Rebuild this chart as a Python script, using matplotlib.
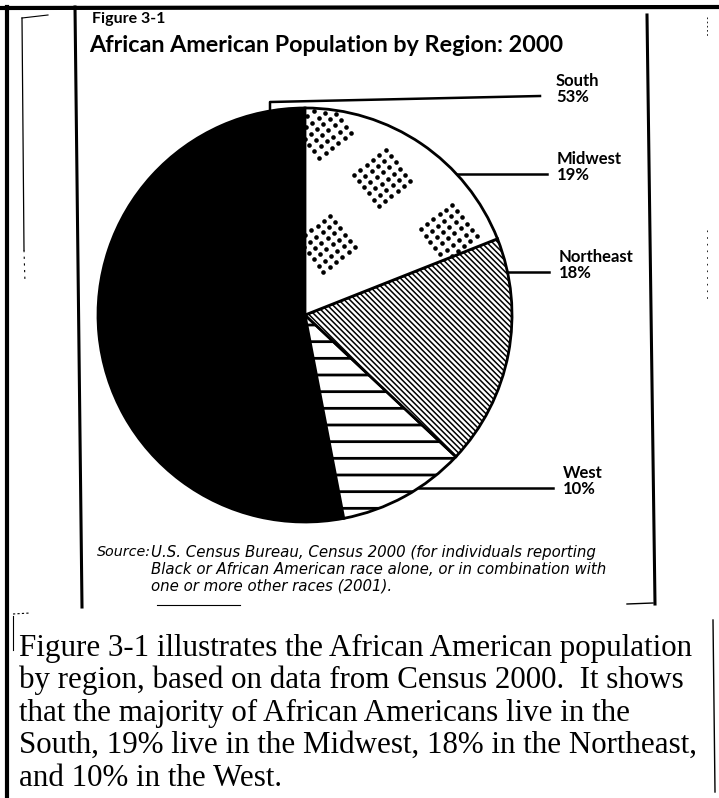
"""
African American Population by Region: 2000 (scanned Figure 3-1 look-alike)
"""

import numpy as np
import matplotlib
matplotlib.use('Agg')
import matplotlib.pyplot as plt

# Data
regions = ['South', 'West', 'Northeast', 'Midwest']
shares = [53, 10, 18, 19]
face_colors = ['black', 'white', 'white', 'white']
hatches = [None, '-', '\\' * 6, None]
hatch_widths = [1.0, 2.0, 1.1, 1.0]

# label placement (pixels in the page): leader y, label x
leader_y = {'South': 96, 'Midwest': 174, 'Northeast': 272, 'West': 488}
label_x = {'South': 556, 'Midwest': 557, 'Northeast': 559, 'West': 563}

# dot clusters inside the Midwest slice: (fraction along slice, radius fraction)
dot_clusters = [(0.92, 0.90), (0.57, 0.76), (0.75, 0.36), (0.12, 0.80)]

W, H = 719, 798
CX, CY, R = 305, 315, 207

plt.rcParams['font.family'] = ['Lato', 'DejaVu Sans']

fig = plt.figure(figsize=(W / 100, H / 100), dpi=100)

# page overlay in pixel coordinates
ax0 = fig.add_axes([0, 0, 1, 1])
ax0.set_xlim(0, W)
ax0.set_ylim(H, 0)
ax0.axis('off')

# scan frame lines
ax0.plot([0, W], [8, 7], color='black', lw=3.0)
ax0.plot([7, 7], [7, H], color='black', lw=3.0)
ax0.plot([22, 24], [18, 250], color='black', lw=0.9)
ax0.plot([24, 25], [250, 283], color='black', lw=0.8, ls=(0, (2, 4)))
ax0.plot([22, 48], [18, 15], color='black', lw=0.8)
ax0.plot([75, 82], [7, 607], color='black', lw=2.2)
ax0.plot([647, 655], [15, 604], color='black', lw=2.2)
ax0.plot([157, 240], [605, 605], color='black', lw=0.8)
ax0.plot([627, 653], [604, 603], color='black', lw=1.0)
ax0.plot([707, 707], [17, 36], color='black', lw=0.6, ls=(0, (2, 3)))
ax0.plot([707, 707], [230, 300], color='black', lw=0.6, ls=(0, (2, 6)))
ax0.plot([13, 13], [616, 650], color='black', lw=0.8)
ax0.plot([13, 30], [614, 613], color='black', lw=0.8, ls=(0, (2, 2)))
ax0.plot([713, 715], [620, 792], color='black', lw=1.0)

# titles
ax0.text(92, 19, 'Figure 3-1', fontsize=11.5, fontweight='bold',
         ha='left', va='center')
ax0.text(89, 46, 'African American Population by Region: 2000',
         fontsize=16.8, fontweight='bold', ha='left', va='center')

# pie
ax = fig.add_axes([(CX - 1.1 * R) / W, (H - CY - 1.1 * R) / H,
                   2.2 * R / W, 2.2 * R / H])
wedges, _ = ax.pie(shares, colors=face_colors, startangle=90,
                   counterclock=True, radius=1.0,
                   wedgeprops=dict(edgecolor='black', linewidth=2.0))
for w, h, hw in zip(wedges, hatches, hatch_widths):
    if h:
        w.set_hatch(h)
    if hasattr(w, 'set_hatch_linewidth'):
        w.set_hatch_linewidth(hw)
ax.set_xlim(-1.1, 1.1)
ax.set_ylim(-1.1, 1.1)
ax.set_aspect('equal')
ax.axis('off')

# dot clusters in the Midwest slice
mw = wedges[regions.index('Midwest')]
step = 8 / R
grid = np.arange(6) - 2.5
gx, gy = np.meshgrid(grid * step, grid * step)
rot = np.deg2rad(38)
ox = gx * np.cos(rot) - gy * np.sin(rot)
oy = gx * np.sin(rot) + gy * np.cos(rot)
for frac, rf in dot_clusters:
    ang = np.deg2rad(mw.theta1 + frac * (mw.theta2 - mw.theta1))
    px = rf * np.cos(ang) + ox.ravel()
    py = rf * np.sin(ang) + oy.ravel()
    sc = ax.scatter(px, py, s=11, color='black', linewidths=0, zorder=3)
    sc.set_clip_path(mw)

# leader lines and labels
for name, share in zip(regions, shares):
    y = leader_y[name]
    if name == 'South':
        ax0.plot([270, 270, 540], [110, 102, y], color='black', lw=1.8)
    else:
        dy = y - CY
        x0 = CX + np.sqrt(R ** 2 - dy ** 2)
        ax0.plot([x0, label_x[name] - 10], [y, y], color='black', lw=1.8)
    ax0.text(label_x[name], y - 7, name, fontsize=12, fontweight='bold',
             ha='left', va='bottom')
    ax0.text(label_x[name], y - 7, f'{share}%', fontsize=12,
             fontweight='bold', ha='left', va='top')

# source note
src_kw = dict(style='italic', family='DejaVu Sans', va='center', ha='left')
ax0.text(97, 552, 'Source:', fontsize=10.3, **src_kw)
ax0.text(151, 552, 'U.S. Census Bureau, Census 2000 (for individuals reporting',
         fontsize=10.8, **src_kw)
ax0.text(151, 569, 'Black or African American race alone, or in combination with',
         fontsize=10.8, **src_kw)
ax0.text(151, 586, 'one or more other races (2001).', fontsize=10.8, **src_kw)

# paragraph below the figure
para = ['Figure 3-1 illustrates the African American population',
        'by region, based on data from Census 2000.  It shows',
        'that the majority of African Americans live in the',
        'South, 19% live in the Midwest, 18% in the Northeast,',
        'and 10% in the West.']
for i, line in enumerate(para):
    ax0.text(19, 648 + i * 32.5, line, fontsize=22.3, family='Liberation Serif',
             ha='left', va='center')

fig.savefig('out.png', dpi=100, facecolor='white')
